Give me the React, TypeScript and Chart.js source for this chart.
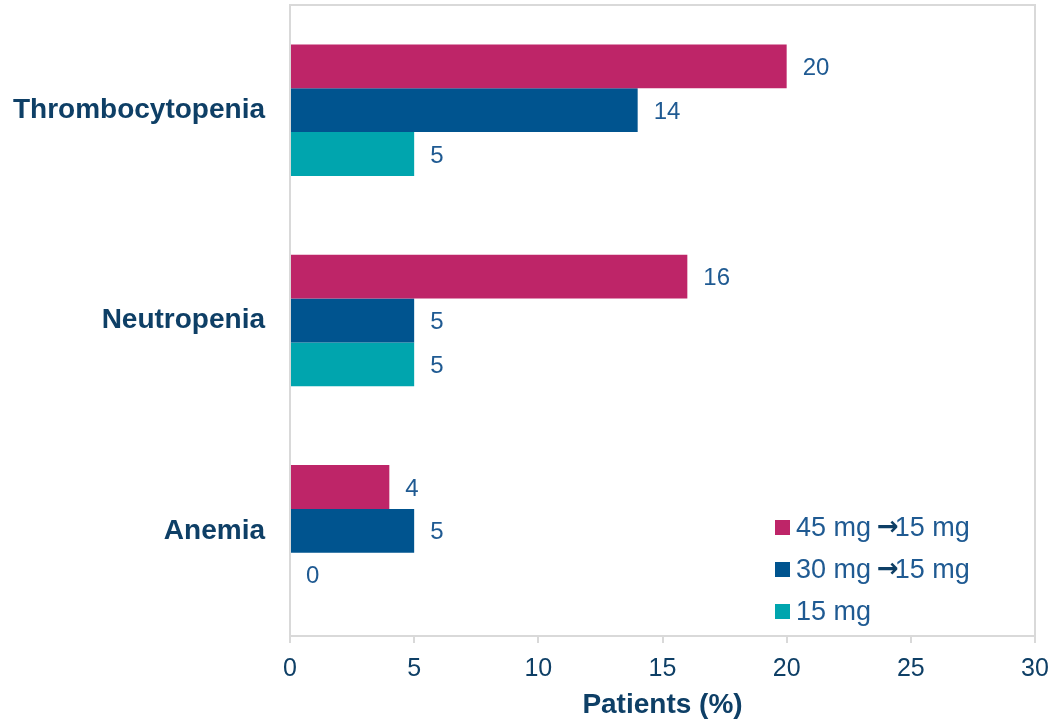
import React, { useEffect, useRef } from "react";
import { Chart, registerables } from "chart.js";

Chart.register(...registerables);

const categories = ["Thrombocytopenia", "Neutropenia", "Anemia"];
const seriesNames = ["45 mg", "30 mg", "15 mg"];
const seriesSuffix = ["15 mg", "15 mg", ""];
const values45 = [20, 16, 4];
const values30 = [14, 5, 5];
const values15 = [5, 5, 0];
const seriesColors = ["#BE2568", "#00548F", "#00A5AE"];
const xTicks = [0, 5, 10, 15, 20, 25, 30];

const FONT = "'Liberation Sans', Arial, sans-serif";
const NAVY = "#0E3F66";
const LABEL = "#1F5A92";

const framePlugin = {
  id: "frame",
  afterDatasetsDraw(chart: any) {
    const { ctx, chartArea } = chart;
    ctx.save();
    ctx.strokeStyle = "#D9D9D9";
    ctx.lineWidth = 2;
    ctx.strokeRect(chartArea.left, chartArea.top, chartArea.right - chartArea.left, chartArea.bottom - chartArea.top);
    ctx.restore();
  },
};

const valueLabelPlugin = {
  id: "valueLabels",
  afterDatasetsDraw(chart: any) {
    const { ctx } = chart;
    ctx.save();
    ctx.font = `24px ${FONT}`;
    ctx.fillStyle = LABEL;
    ctx.textAlign = "left";
    ctx.textBaseline = "middle";
    chart.data.datasets.forEach((ds: any, i: number) => {
      const meta = chart.getDatasetMeta(i);
      meta.data.forEach((bar: any, j: number) => {
        ctx.fillText(String(ds.data[j]), bar.x + 16, bar.y + 2);
      });
    });
    ctx.restore();
  },
};

const legendPlugin = {
  id: "customLegend",
  afterDraw(chart: any) {
    const { ctx, chartArea } = chart;
    ctx.save();
    const x0 = chartArea.left + 485;
    const y0 = chartArea.bottom - 108;
    chart.data.datasets.forEach((ds: any, i: number) => {
      const y = y0 + i * 42;
      ctx.fillStyle = seriesColors[i];
      ctx.fillRect(x0, y - 8, 15, 15);
      ctx.textBaseline = "middle";
      ctx.textAlign = "left";
      ctx.fillStyle = LABEL;
      ctx.font = `27px ${FONT}`;
      let x = x0 + 21;
      ctx.fillText(seriesNames[i], x, y + 1);
      x += ctx.measureText(seriesNames[i]).width;
      if (seriesSuffix[i]) {
        x += 6;
        ctx.fillStyle = NAVY;
        ctx.font = `bold 26px 'DejaVu Sans', ${FONT}`;
        ctx.fillText("\u2192", x, y);
        x += ctx.measureText("\u2192").width - 4;
        ctx.fillStyle = LABEL;
        ctx.font = `27px ${FONT}`;
        ctx.fillText(seriesSuffix[i], x, y + 1);
      }
    });
    ctx.restore();
  },
};

export default function App() {
  const ref = useRef<HTMLCanvasElement>(null);
  useEffect(() => {
    if (!ref.current) return;
    const chart = new Chart(ref.current, {
      type: "bar",
      data: {
        labels: categories,
        datasets: [values45, values30, values15].map((d, i) => ({
          label: seriesNames[i] + (seriesSuffix[i] ? " \u2192" + seriesSuffix[i] : ""),
          data: d,
          backgroundColor: seriesColors[i],
          barPercentage: 1,
          categoryPercentage: 0.625,
        })),
      },
      options: {
        indexAxis: "y",
        animation: false,
        responsive: true,
        maintainAspectRatio: false,
        layout: { padding: { top: 5, right: 17, left: 0, bottom: 0 } },
        plugins: {
          legend: { display: false },
          tooltip: { enabled: false },
        },
        scales: {
          x: {
            min: 0,
            max: 30,
            afterBuildTicks(scale: any) {
              scale.ticks = xTicks.map((v) => ({ value: v }));
            },
            afterFit(scale: any) {
              scale.height = 83;
              scale.paddingLeft = 0;
              scale.paddingRight = 0;
            },
            grid: {
              drawOnChartArea: false,
              drawTicks: true,
              tickLength: 7,
              color: "#D9D9D9",
              lineWidth: 2,
            },
            border: { display: false },
            ticks: {
              color: NAVY,
              font: { family: FONT, size: 25 },
              padding: 11,
            },
            title: {
              display: true,
              text: "Patients (%)",
              color: NAVY,
              font: { family: FONT, size: 28, weight: "bold" },
              padding: { top: 0, bottom: -3 },
            },
          },
          y: {
            afterFit(scale: any) {
              scale.width = 290;
              scale.paddingTop = 0;
              scale.paddingBottom = 0;
            },
            grid: { display: false, drawTicks: false },
            border: { display: false },
            ticks: {
              color: NAVY,
              font: { family: FONT, size: 28, weight: "bold" },
              padding: 25,
            },
          },
        },
      },
      plugins: [framePlugin, valueLabelPlugin, legendPlugin],
    } as any);
    return () => chart.destroy();
  }, []);
  return (
    <div style={{ position: "fixed", left: 0, top: 0, width: 1052, height: 719, background: "#fff" }}>
      <canvas ref={ref} />
    </div>
  );
}
